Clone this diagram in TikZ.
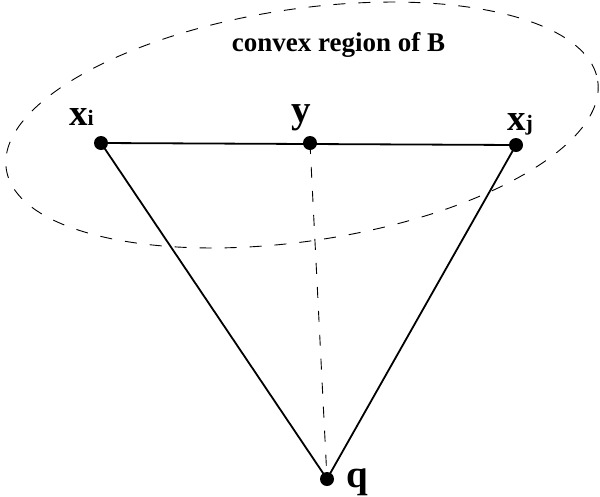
\documentclass[tikz,border=0pt]{standalone}
\usepackage{fontspec}
\setmainfont{Liberation Serif}
\begin{document}
\begin{tikzpicture}[x=1pt,y=-1pt,
  pt/.style={circle,fill=black,draw=none,inner sep=0pt,minimum size=14pt},
  edge/.style={line width=1.8pt},
  dashline/.style={line width=0.9pt,dash pattern=on 12pt off 13pt},
  lbl/.style={anchor=base west,inner sep=0pt,font=\bfseries\fontsize{37}{37}\selectfont},
  title/.style={anchor=base,inner sep=0pt,font=\bfseries\fontsize{27}{27}\selectfont}]
\useasboundingbox (0,0) rectangle (600,496);
% convex region
\draw[dashline,rotate around={8.5:(302,125)}] (302,125) ellipse [x radius=299, y radius=116];
\node[title] (ttl) at (338.5,51) {convex region of B};
% points
\node[pt] (xi) at (101,143) {};
\node[pt] (y) at (310,143) {};
\node[pt] (xj) at (516,145) {};
\node[pt] (q) at (327,479) {};
% connectors
\draw[edge] (xi.center) -- (xj.center);
\draw[edge] (xi.center) -- (q.center);
\draw[edge] (xj.center) -- (q.center);
\draw[dashline,dash pattern=on 11pt off 13pt] (y.center) -- (q.center);
% labels
\node[lbl] (lxi) at (69,125) {x{\fontsize{22}{22}\selectfont i}};
\node[lbl,font=\bfseries\fontsize{39}{39}\selectfont] (ly) at (291,122) {y};
\node[lbl] (lxj) at (507,130) {x{\fontsize{22}{22}\selectfont j}};
\node[lbl,font=\bfseries\fontsize{39}{39}\selectfont] (lq) at (346,487) {q};
\end{tikzpicture}
\end{document}
